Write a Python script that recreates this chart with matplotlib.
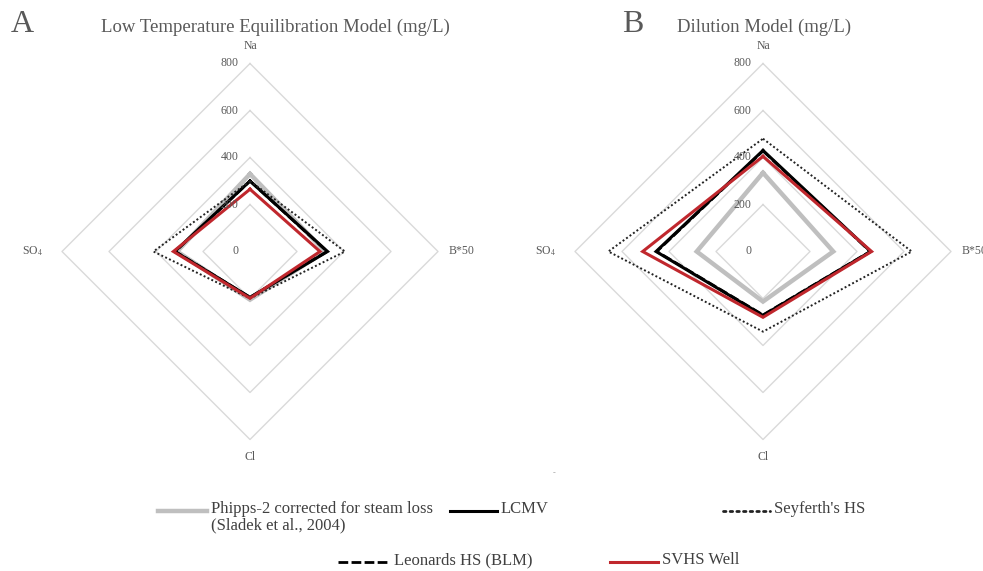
import numpy as np
import matplotlib
matplotlib.use("Agg")
from matplotlib import pyplot as plt
from matplotlib.lines import Line2D

plt.rcParams['font.family'] = ['Liberation Serif', 'DejaVu Serif']
plt.rcParams['mathtext.fontset'] = 'stix'

# Spoke names, clockwise from the top
spokes = ["Na", "B*50", "Cl", "SO$_4$"]
ring_values = [200, 400, 600, 800]
tick_values = [0, 200, 400, 600, 800]

# Low temperature equilibration model (mg/L), order Na, B*50, Cl, SO4
phipps_low = [330, 320, 205, 310]
lcmv_low = [300, 330, 195, 320]
seyferth_low = [300, 404, 200, 411]
leonards_low = [300, 328, 195, 318]
svhs_low = [265, 298, 199, 326]

# Dilution model (mg/L)
phipps_dil = [335, 299, 213, 282]
lcmv_dil = [430, 458, 272, 455]
seyferth_dil = [480, 633, 341, 658]
leonards_dil = [428, 456, 270, 452]
svhs_dil = [405, 462, 280, 512]

angles = np.array([np.pi / 2, 0.0, -np.pi / 2, np.pi])

grey_txt = '#595959'
ring_col = '#d9d9d9'
red = '#c0272d'

styles = {
    'phipps': dict(color='#bfbfbf', lw=3.2, ls='-', solid_joinstyle='miter'),
    'leonards': dict(color='black', lw=2.0, ls=(0, (3.5, 1.2))),
    'lcmv': dict(color='black', lw=2.2, ls='-', solid_joinstyle='miter'),
    'seyferth': dict(color='#222222', lw=1.4, ls=(0, (1, 1.2))),
    'svhs': dict(color=red, lw=2.2, ls='-', solid_joinstyle='miter'),
}
# the legend sample of the dotted series is drawn a bit heavier
legend_override = {
    'seyferth': dict(color='#222222', lw=2.0, ls=(0, (0.9, 1.5)), dash_capstyle='round'),
}


def to_xy(vals):
    v = np.append(vals, vals[0])
    a = np.append(angles, angles[0])
    return v * np.cos(a), v * np.sin(a)


def radar(ax, series):
    for r in ring_values:
        x, y = to_xy([r] * 4)
        ax.plot(x, y, color=ring_col, lw=1.0, zorder=1)
    for t in tick_values:
        ax.text(-50, t, str(t), ha='right', va='center', fontsize=8.5, color=grey_txt, zorder=6)
    lab_pos = [(0, 875), (900, 0), (0, -875), (-925, 0)]
    for name, (lx, ly) in zip(spokes, lab_pos):
        ax.text(lx, ly, name, ha='center', va='center', fontsize=8.5, color=grey_txt)
    for key, vals in series:
        x, y = to_xy(vals)
        ax.plot(x, y, zorder=3, **styles[key])
    ax.set_xlim(-1000, 1000)
    ax.set_ylim(-1000, 1000)
    ax.set_aspect('equal')
    ax.axis('off')


fig = plt.figure(figsize=(9.83, 5.71), dpi=100)
W, H = 983.0, 571.0

ax_a = fig.add_axes([15 / W, 1 - 486.5 / H, 470 / W, 470 / H])
ax_b = fig.add_axes([528 / W, 1 - 486.5 / H, 470 / W, 470 / H])

radar(ax_a, [('phipps', phipps_low), ('leonards', leonards_low), ('lcmv', lcmv_low),
             ('seyferth', seyferth_low), ('svhs', svhs_low)])
radar(ax_b, [('phipps', phipps_dil), ('leonards', leonards_dil), ('lcmv', lcmv_dil),
             ('seyferth', seyferth_dil), ('svhs', svhs_dil)])

# Panel letters and titles
fig.text(22 / W, 1 - 25 / H, "A", fontsize=23, color=grey_txt, ha='center', va='center')
fig.text(275 / W, 1 - 27 / H, "Low Temperature Equilibration Model (mg/L)", fontsize=13.5,
         color=grey_txt, ha='center', va='center')
fig.text(633 / W, 1 - 25 / H, "B", fontsize=23, color=grey_txt, ha='center', va='center')
fig.text(764 / W, 1 - 27 / H, "Dilution Model (mg/L)", fontsize=13.5,
         color=grey_txt, ha='center', va='center')
fig.text(554 / W, 1 - 473 / H, "-", fontsize=6, color='#999999', ha='center', va='center')

# Legend, laid out by hand
legend_items = [
    ('phipps', 158, 207, 511, "Phipps-2 corrected for steam loss\n(Sladek et al., 2004)"),
    ('lcmv', 450, 497, 511, "LCMV"),
    ('seyferth', 723, 770, 511, "Seyferth's HS"),
    ('leonards', 338, 390, 562, "Leonards HS (BLM)"),
    ('svhs', 610, 658, 562, "SVHS Well"),
]
for key, x0, x1, y, label in legend_items:
    st = dict(legend_override.get(key, styles[key]))
    st.pop('solid_joinstyle', None)
    fig.add_artist(Line2D([x0 / W, x1 / W], [1 - y / H, 1 - y / H], transform=fig.transFigure, **st))
    fig.text((x1 + 4) / W, 1 - (y - 10) / H, label, fontsize=12, color='#404040',
             ha='left', va='top', linespacing=1.0)

fig.savefig("out.png", dpi=100, facecolor='white')
